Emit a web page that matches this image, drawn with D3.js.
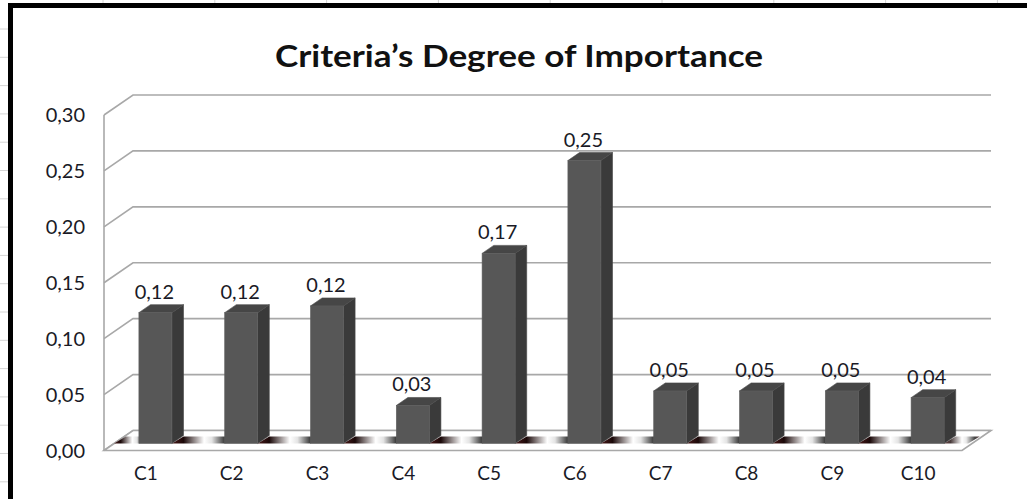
<!DOCTYPE html>
<html><head><meta charset="utf-8">
<script src="https://cdn.jsdelivr.net/npm/d3@7"></script>
<style>html,body{margin:0;padding:0;background:#fff;}svg{display:block;}</style>
</head><body>
<svg id="c" width="1027" height="499"></svg>
<script>
const title = "Criteria’s Degree of Importance";
const categories = ["C1","C2","C3","C4","C5","C6","C7","C8","C9","C10"];
const values = [0.117, 0.117, 0.123, 0.034, 0.170, 0.253, 0.047, 0.047, 0.047, 0.041];
const yTicks = [0, 0.05, 0.10, 0.15, 0.20, 0.25, 0.30];

const svg = d3.select("#c");
const W = 1027, H = 499;
const loc = d3.formatLocale({decimal: ",", thousands: ".", grouping: [3], currency: ["", ""]});
const fmt = loc.format(".2f");
const FONT = "Lato, 'Open Sans', sans-serif";
const TXT = "#1a1a26";

// sheet grid outside the chart frame
const sheet = svg.append("g");
d3.range(0, 18).forEach(k => {
  const yy = 29 + k * 28.3;
  sheet.append("line").attr("x1", 0).attr("x2", 8).attr("y1", yy).attr("y2", yy).attr("stroke", "#d4d4d4");
});
d3.range(0, 10).forEach(k => {
  const xx = 103 + k * 111.8;
  sheet.append("line").attr("x1", xx).attr("x2", xx).attr("y1", 0).attr("y2", 3).attr("stroke", "#d4d4d4");
});

// frame
svg.append("line").attr("x1", 10.5).attr("x2", 10.5).attr("y1", 3).attr("y2", H).attr("stroke", "#000").attr("stroke-width", 5);
svg.append("line").attr("x1", 8).attr("x2", W).attr("y1", 5.5).attr("y2", 5.5).attr("stroke", "#000").attr("stroke-width", 5);

// title
svg.append("text").attr("x", 519).attr("y", 67).attr("text-anchor", "middle")
  .attr("font-family", FONT).attr("font-weight", "bold")
  .attr("font-size", 31).attr("fill", "#111")
  .attr("textLength", 488).attr("lengthAdjust", "spacingAndGlyphs").text(title);

// 3D geometry
const DX = 29, DY = 20;
const y = d3.scaleLinear().domain([0, 0.30]).range([450.5, 115]);
const x = d3.scaleBand().domain(categories).range([104, 962]);
const P = (xf, v, d) => [xf + d * DX, y(v) - d * DY];
const gridColor = "#a8a8a8";

const g = svg.append("g");
// back-wall and side-wall gridlines
yTicks.forEach(v => {
  const a = P(104, v, 0), b = P(104, v, 1), c = P(962, v, 1);
  g.append("path").attr("d", `M${a}L${b}L${c}`)
    .attr("fill", "none").attr("stroke", gridColor).attr("stroke-width", 1.6);
});
// left wall front edge
g.append("line").attr("x1", 104).attr("x2", 104).attr("y1", y(0.30)).attr("y2", y(0))
  .attr("stroke", gridColor).attr("stroke-width", 1.6);

// floor
const fl = [P(104, 0, 0), P(104, 0, 1), P(962, 0, 1), P(962, 0, 0)];
g.append("path").attr("d", "M" + fl.join("L") + "Z").attr("fill", "#fff")
  .attr("stroke", gridColor).attr("stroke-width", 1.6);

// floor shadow gradient
const defs = svg.append("defs");
const gr = defs.append("linearGradient").attr("id", "sh").attr("x1", 0).attr("x2", 1).attr("y1", 0).attr("y2", 0);
[[0, "#4a1a1a"], [0.18, "#1a0808"], [0.5, "#ffffff"], [0.62, "#e4e4e4"], [0.86, "#151515"], [1, "#3a1414"]]
  .forEach(([o, c]) => gr.append("stop").attr("offset", o).attr("stop-color", c));

const F1 = 0.35, F2 = 0.75;     // bar depth span
const barW = 33, barOff = 8;    // front face width and shift
const bdx = (F2 - F1) * DX, bdy = (F2 - F1) * DY;
const baseY = y(0) - F1 * DY;

// shadow band segments between bars
const lefts = categories.map(c => x(c) + x.bandwidth() / 2 - barOff);
lefts.forEach((xl, i) => {
  const x0 = i === 0 ? 104 + F1 * DX : lefts[i - 1] + barW;
  const x1 = xl;
  const pts = [[x0, baseY], [x0 + bdx, baseY - bdy + 1], [x1 + bdx, baseY - bdy + 1], [x1, baseY]];
  g.append("path").attr("d", "M" + pts.join("L") + "Z").attr("fill", "url(#sh)");
});
{
  const x0 = lefts[lefts.length - 1] + barW, x1 = 962 + F1 * DX - 4;
  const pts = [[x0, baseY], [x0 + bdx, baseY - bdy + 1], [x1 + bdx, baseY - bdy + 1], [x1, baseY]];
  g.append("path").attr("d", "M" + pts.join("L") + "Z").attr("fill", "url(#sh)").attr("opacity", 0.8);
}

// bars
const bars = g.selectAll("g.bar").data(categories.map((c, i) => ({c, v: values[i]})))
  .join("g").attr("class", "bar");
bars.each(function(d) {
  const s = d3.select(this);
  const xl = x(d.c) + x.bandwidth() / 2 - barOff;
  const yt = y(d.v) - F1 * DY;
  s.append("path").attr("d", `M${xl + barW},${yt}L${xl + barW + bdx},${yt - bdy}L${xl + barW + bdx},${baseY - bdy}L${xl + barW},${baseY}Z`)
    .attr("fill", "#3a3a3a").attr("stroke", "#444").attr("stroke-width", 0.6);
  s.append("path").attr("d", `M${xl},${yt}L${xl + bdx},${yt - bdy}L${xl + barW + bdx},${yt - bdy}L${xl + barW},${yt}Z`)
    .attr("fill", "#464646").attr("stroke", "#4a4a4a").attr("stroke-width", 0.6);
  s.append("rect").attr("x", xl).attr("y", yt).attr("width", barW).attr("height", baseY - yt)
    .attr("fill", "#575757").attr("stroke", "#606060").attr("stroke-width", 0.6);
  s.append("text").attr("x", xl + barW / 2 - 1).attr("y", yt - bdy - 6).attr("text-anchor", "middle")
    .attr("font-family", FONT).attr("font-size", 20).attr("fill", TXT)
    .text(fmt(d.v));
});

// y tick labels
g.selectAll("text.yt").data(yTicks).join("text").attr("class", "yt")
  .attr("x", 85).attr("y", v => y(v)).attr("dy", "0.35em").attr("text-anchor", "end")
  .attr("font-family", FONT).attr("font-size", 20).attr("fill", TXT)
  .text(v => fmt(v));

// category labels
g.selectAll("text.xt").data(categories).join("text").attr("class", "xt")
  .attr("x", c => x(c) + x.bandwidth() / 2 - 1).attr("y", 473).attr("dy", "0.35em").attr("text-anchor", "middle")
  .attr("font-family", FONT).attr("font-size", 19).attr("fill", TXT)
  .text(c => c);
</script>
</body></html>
